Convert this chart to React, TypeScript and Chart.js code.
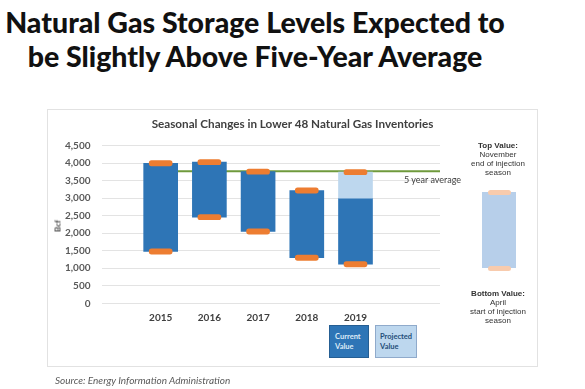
import React, { useEffect, useRef } from 'react';
import { Chart, registerables } from 'chart.js';

Chart.register(...registerables);

// ---- data ----
const years = ['2015', '2016', '2017', '2018', '2019'];
const aprilStart = [1480, 2460, 2050, 1300, 1115];
const currentTop = [4000, 4030, 3760, 3220, 3000];
const projectedTop: (number | null)[] = [null, null, null, null, 3745];
const novemberEnd = [4000, 4030, 3760, 3220, 3745];
const fiveYearAverage = 3770;
const yTickValues = [0, 500, 1000, 1500, 2000, 2500, 3000, 3500, 4000, 4500];

const CAP_HALF = 75;
const DARK_BLUE = '#2E75B6';
const LIGHT_BLUE = '#BDD7EE';
const ORANGE = '#ED7D31';

const avgLinePlugin = {
  id: 'avgLine',
  beforeDatasetsDraw(chart: any) {
    const { ctx, chartArea, scales } = chart;
    const y = scales.y.getPixelForValue(fiveYearAverage);
    const x0 = scales.x.getPixelForValue(0);
    ctx.save();
    ctx.strokeStyle = '#6F9A3C';
    ctx.lineWidth = 2;
    ctx.beginPath();
    ctx.moveTo(x0, y);
    ctx.lineTo(chartArea.right, y);
    ctx.stroke();
    ctx.restore();
  },
};

function ChartCanvas() {
  const ref = useRef<HTMLCanvasElement>(null);
  useEffect(() => {
    if (!ref.current) return;
    const capData = (vals: number[]) =>
      vals.map((v, i) => ({ x: i, y: [v - CAP_HALF, v + CAP_HALF] }));
    const chart = new Chart(ref.current, {
      type: 'bar',
      data: {
        datasets: [
          {
            label: 'Top caps',
            data: capData(novemberEnd) as any,
            backgroundColor: ORANGE,
            barThickness: 23,
            borderRadius: 3,
            borderSkipped: false,
            grouped: false,
            order: 0,
          },
          {
            label: 'Bottom caps',
            data: capData(aprilStart) as any,
            backgroundColor: ORANGE,
            barThickness: 23,
            borderRadius: 3,
            borderSkipped: false,
            grouped: false,
            order: 0,
          },
          {
            label: 'Projected Value',
            data: projectedTop
              .map((v, i) => (v == null ? null : { x: i, y: [currentTop[i], v] }))
              .filter(Boolean) as any,
            backgroundColor: LIGHT_BLUE,
            barThickness: 34,
            grouped: false,
            order: 1,
          },
          {
            label: 'Current Value',
            data: aprilStart.map((v, i) => ({ x: i, y: [v, currentTop[i]] })) as any,
            backgroundColor: DARK_BLUE,
            barThickness: 34,
            grouped: false,
            order: 1,
          },
        ],
      },
      options: {
        animation: false,
        responsive: false,
        maintainAspectRatio: false,
        layout: { padding: { top: 145.7, left: 0, right: 145, bottom: 55.7 } },
        plugins: { legend: { display: false }, tooltip: { enabled: false }, title: { display: false } },
        scales: {
          x: {
            type: 'linear',
            min: -0.52,
            max: 5.04,
            afterBuildTicks: (scale: any) => {
              scale.ticks = years.map((_, i) => ({ value: i }));
            },
            afterFit: (scale: any) => {
              scale.height = 30;
            },
            grid: { display: false, drawTicks: false },
            border: { display: false },
            ticks: {
              callback: (v: any) => years[v as number] ?? '',
              color: '#404040',
              font: { family: 'Lato', weight: 'bold', size: 10 },
              padding: 8,
              maxRotation: 0,
            },
          },
          y: {
            min: 0,
            max: 4500,
            afterBuildTicks: (scale: any) => {
              scale.ticks = yTickValues.map((v) => ({ value: v }));
            },
            afterFit: (scale: any) => {
              scale.width = 101.5;
            },
            grid: { color: '#E3E3E3', drawTicks: false, lineWidth: 1 },
            border: { display: false },
            ticks: {
              callback: (v: any) => Number(v).toLocaleString('en-US'),
              color: '#595959',
              font: { family: 'Lato', weight: 'bold', size: 10 },
              padding: 11,
            },
          },
        },
      },
      plugins: [avgLinePlugin],
    });
    return () => chart.destroy();
  }, []);
  return <canvas ref={ref} width={585} height={389} style={{ position: 'absolute', left: 0, top: 0 }} />;
}

const abs = (s: React.CSSProperties): React.CSSProperties => ({ position: 'absolute', ...s });

export default function App() {
  useEffect(() => {
    document.body.style.margin = '0';
  }, []);
  const small: React.CSSProperties = {
    fontFamily: '"Liberation Sans", Arial, sans-serif',
    fontSize: 8,
    lineHeight: '9px',
    color: '#333',
    textAlign: 'center',
  };
  return (
    <div style={{ position: 'fixed', left: 0, top: 0, width: 585, height: 389, background: '#fff', overflow: 'hidden' }}>
      <div
        style={abs({
          left: 0,
          top: 5,
          width: 510,
          textAlign: 'center',
          fontFamily: 'Lato, sans-serif',
          fontWeight: 900,
          fontSize: 28.5,
          lineHeight: '34px',
          color: '#111',
          whiteSpace: 'nowrap',
        })}
      >
        Natural Gas Storage Levels Expected to
        <br />
        be Slightly Above Five-Year Average
      </div>
      <div style={abs({ left: 47, top: 109, width: 491, height: 258, border: '1px solid #E2E2E2', boxSizing: 'border-box' })} />
      <ChartCanvas />
      <div
        style={abs({
          left: 47,
          top: 116,
          width: 491,
          textAlign: 'center',
          fontFamily: 'Lato, sans-serif',
          fontWeight: 700,
          fontSize: 11.7,
          color: '#404040',
          whiteSpace: 'nowrap',
        })}
      >
        Seasonal Changes in Lower 48 Natural Gas Inventories
      </div>
      <div
        style={abs({
          left: 45,
          top: 221,
          width: 25,
          textAlign: 'center',
          transform: 'rotate(-90deg)',
          fontFamily: 'Lato, sans-serif',
          fontWeight: 700,
          fontSize: 8,
          color: '#404040',
        })}
      >
        Bcf
      </div>
      <div style={abs({ left: 404, top: 174, fontFamily: 'Lato, sans-serif', fontSize: 9, color: '#404040', whiteSpace: 'nowrap' })}>
        5 year average
      </div>
      <div style={abs({ left: 458, top: 141, width: 80, ...small })}>
        <b>Top Value:</b>
        <br />
        November
        <br />
        end of injection
        <br />
        season
      </div>
      <div style={abs({ left: 482, top: 192, width: 34, height: 76, background: '#B7CFEA' })} />
      <div style={abs({ left: 488, top: 189.5, width: 23, height: 5, borderRadius: 3, background: '#F8CBAD' })} />
      <div style={abs({ left: 488, top: 265.5, width: 23, height: 5, borderRadius: 3, background: '#F8CBAD' })} />
      <div style={abs({ left: 458, top: 289, width: 80, ...small })}>
        <b>Bottom Value:</b>
        <br />
        April
        <br />
        start of injection
        <br />
        season
      </div>
      <div
        style={abs({
          left: 329,
          top: 325,
          width: 40,
          height: 33,
          background: DARK_BLUE,
          border: '1px solid #255E93',
          boxSizing: 'border-box',
          padding: '6px 0 0 5px',
          fontFamily: 'Lato, sans-serif',
          fontWeight: 700,
          fontSize: 7.5,
          lineHeight: '9.5px',
          color: '#DDEBF7',
        })}
      >
        Current
        <br />
        Value
      </div>
      <div
        style={abs({
          left: 375,
          top: 325,
          width: 42,
          height: 33,
          background: LIGHT_BLUE,
          border: '1px solid #8FAACB',
          boxSizing: 'border-box',
          padding: '6px 0 0 4px',
          fontFamily: 'Lato, sans-serif',
          fontWeight: 700,
          fontSize: 7.5,
          lineHeight: '9.5px',
          color: '#1F4E79',
        })}
      >
        Projected
        <br />
        Value
      </div>
      <div
        style={abs({
          left: 55,
          top: 374,
          fontFamily: 'Lato, sans-serif',
          fontStyle: 'italic',
          fontSize: 10,
          color: '#595959',
          whiteSpace: 'nowrap',
        })}
      >
        Source: Energy Information Administration
      </div>
    </div>
  );
}
